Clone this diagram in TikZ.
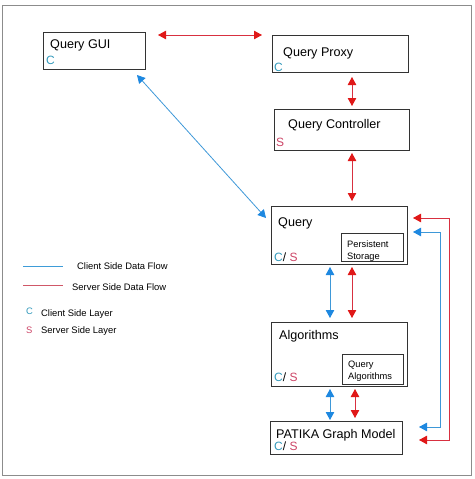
\documentclass[tikz,border=0pt]{standalone}
\usepackage{fontspec}
\setmainfont{Liberation Sans}
\usetikzlibrary{arrows.meta,calc}
\definecolor{cteal}{HTML}{3399BB}
\definecolor{spink}{HTML}{CC4466}
\definecolor{arrred}{HTML}{E01818}
\definecolor{arrblue}{HTML}{1E88E0}
\definecolor{lnred}{HTML}{D83040}
\definecolor{lnblue}{HTML}{3E98D8}
\definecolor{legblue}{HTML}{3E9CD8}
\definecolor{legred}{HTML}{D05868}
\tikzset{
  box/.style={draw=black!80, line width=0.9pt, rectangle, inner sep=0pt, anchor=north west},
  ttl/.style={anchor=base west, inner sep=0pt, font=\fontsize{12.6}{14}\selectfont},
  small/.style={anchor=base west, inner sep=0pt, font=\fontsize{9.3}{11}\selectfont},
  leg/.style={anchor=base west, inner sep=0pt, font=\fontsize{9.4}{11}\selectfont},
  lay/.style={anchor=base west, inner sep=0pt, font=\fontsize{12}{14}\selectfont},
  redarr/.style={draw=lnred, line width=0.8pt, {Triangle[length=8pt,width=8.5pt,color=arrred]}-{Triangle[length=8pt,width=8.5pt,color=arrred]}},
  bluearr/.style={draw=lnblue, line width=0.8pt, {Triangle[length=8pt,width=8.5pt,color=arrblue]}-{Triangle[length=8pt,width=8.5pt,color=arrblue]}},
}
\begin{document}
\begin{tikzpicture}[x=1pt,y=-1pt]
\useasboundingbox (0,0) rectangle (474,479);
\draw[draw=black!45, line width=1pt] (2,5) rectangle (471,475);

% boxes
\node[box, minimum width=102pt, minimum height=37pt] (gui) at (43,32) {};
\node[box, minimum width=136pt, minimum height=37pt] (proxy) at (272,35) {};
\node[box, minimum width=135pt, minimum height=41pt] (ctrl) at (274,109) {};
\node[box, minimum width=136pt, minimum height=58pt] (query) at (271,206) {};
\node[box, minimum width=62pt, minimum height=28pt] (pstore) at (341,233) {};
\node[box, minimum width=136pt, minimum height=64pt] (alg) at (271,322) {};
\node[box, minimum width=61pt, minimum height=30pt] (qalg) at (342,354) {};
\node[box, minimum width=132pt, minimum height=33pt] (patika) at (270,421) {};

% texts
\node[ttl] (tgui) at (50,48) {Query GUI};
\node[lay, text=cteal] (cgui) at (46,64) {C};
\node[ttl] (tproxy) at (283,56) {Query Proxy};
\node[lay, text=cteal] (cproxy) at (274,71) {C};
\node[ttl] (tctrl) at (288,128) {Query Controller};
\node[lay, text=spink] (sctrl) at (276,146) {S};
\node[ttl] (tquery) at (278,226) {Query};
\node[lay] (csquery) at (274,261) {\textcolor{cteal}{C}/ \textcolor{spink}{S}};
\node[small] (tpers1) at (347,247) {Persistent};
\node[small] (tpers2) at (347,259) {Storage};
\node[ttl] (talg) at (279,339) {Algorithms};
\node[lay] (csalg) at (274,381) {\textcolor{cteal}{C}/ \textcolor{spink}{S}};
\node[small] (tqa1) at (348,367) {Query};
\node[small] (tqa2) at (348,379) {Algorithms};
\node[ttl] (tpat) at (276,438) {PATIKA Graph Model};
\node[lay] (cspat) at (274,450) {\textcolor{cteal}{C}/ \textcolor{spink}{S}};

% connector end points
\coordinate (a1) at (158,35);  \coordinate (a2) at (262,35);
\coordinate (b1) at (352,77);  \coordinate (b2) at (352,106);
\coordinate (c1) at (352,153); \coordinate (c2) at (352,201);
\coordinate (d1) at (137,75);  \coordinate (d2) at (266,218);
\coordinate (e1) at (330,267); \coordinate (e2) at (330,318);
\coordinate (f1) at (352,267); \coordinate (f2) at (352,318);
\coordinate (g1) at (330,389); \coordinate (g2) at (330,420);
\coordinate (h1) at (355,389); \coordinate (h2) at (355,418);
\coordinate (r1) at (419,440); \coordinate (r2) at (413,218);
\coordinate (u1) at (419,427); \coordinate (u2) at (413,232);

\draw[redarr] (a1) -- (a2);
\draw[redarr] (b1) -- (b2);
\draw[redarr] (c1) -- (c2);
\draw[bluearr] (d1) -- (d2);
\draw[bluearr] (e1) -- (e2);
\draw[redarr] (f1) -- (f2);
\draw[bluearr] (g1) -- (g2);
\draw[redarr] (h1) -- (h2);
\draw[redarr] (r1) -- (449,440) |- (r2);
\draw[bluearr] (u1) -- (440,427) |- (u2);

% legend
\coordinate (lb1) at (23,266.5); \coordinate (lb2) at (63,266.5);
\coordinate (lr1) at (23,285.5); \coordinate (lr2) at (63,285.5);
\draw[draw=legblue, line width=1.1pt] (lb1) -- (lb2);
\draw[draw=legred, line width=1.1pt] (lr1) -- (lr2);
\node[leg] (lt1) at (77,269) {Client Side Data Flow};
\node[leg] (lt2) at (72,290) {Server Side Data Flow};
\node[leg, text=cteal] (lc) at (26,314) {C};
\node[leg] (lt3) at (41,316) {Client Side Layer};
\node[leg, text=spink] (ls) at (26,333) {S};
\node[leg] (lt4) at (41,333) {Server Side Layer};
\end{tikzpicture}
\end{document}
